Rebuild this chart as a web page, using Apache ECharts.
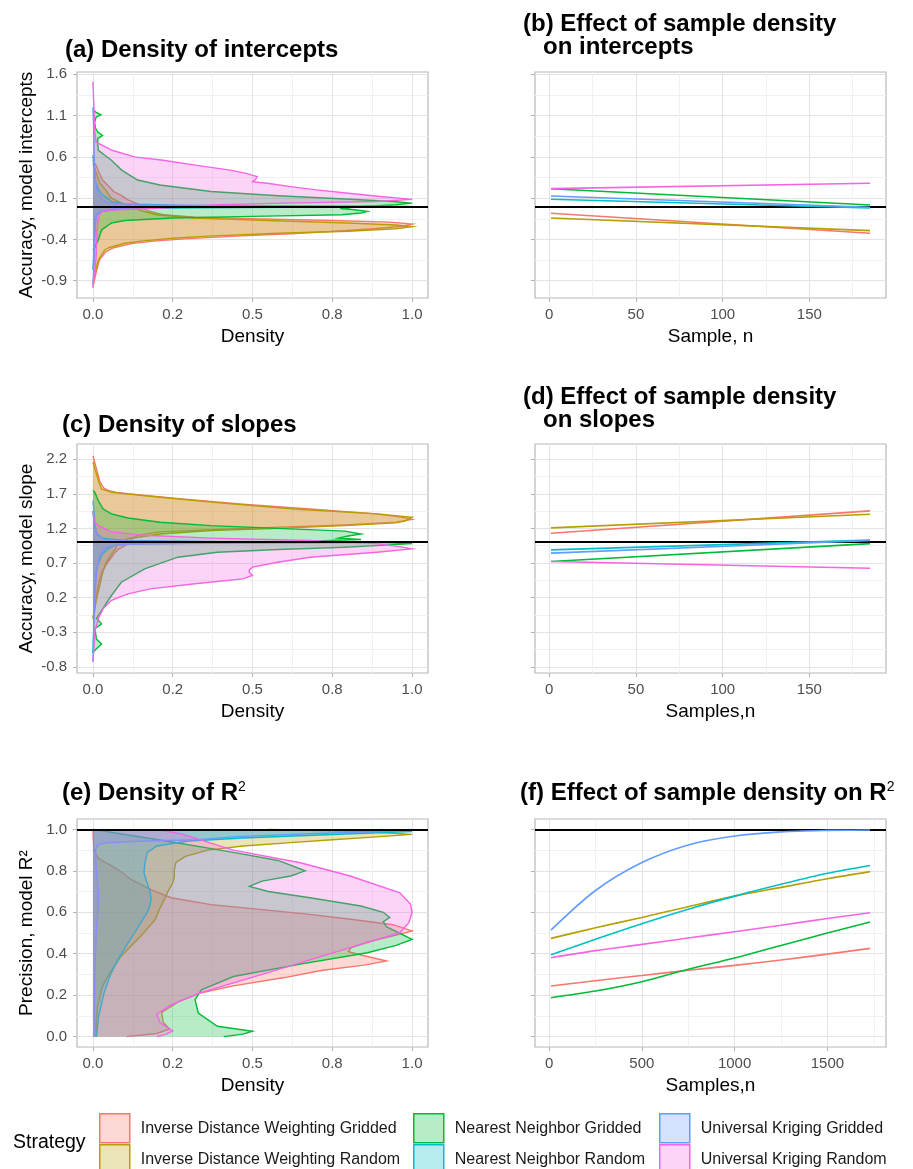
<!DOCTYPE html>
<html>
<head>
<meta charset="utf-8">
<script src="https://cdn.jsdelivr.net/npm/echarts@6/dist/echarts.min.js"></script>
<style>
  html, body { margin: 0; padding: 0; background: #fff; }
  #chart { width: 913px; height: 1169px; }
</style>
</head>
<body>
<div id="chart"></div>
<script>
var FONT = 'Liberation Sans, Arial, sans-serif';

var strategies = [
  'Inverse Distance Weighting Gridded',
  'Inverse Distance Weighting Random',
  'Nearest Neighbor Gridded',
  'Nearest Neighbor Random',
  'Universal Kriging Gridded',
  'Universal Kriging Random'
];
var colors = ['#F8766D', '#B79F00', '#00BA38', '#00BFC4', '#619CFF', '#F564E3'];
var fills = ['rgba(248,118,109,0.28)', 'rgba(183,159,0,0.28)', 'rgba(0,186,56,0.28)',
             'rgba(0,191,196,0.28)', 'rgba(97,156,255,0.28)', 'rgba(245,100,227,0.28)'];

// tick values / labels
var densityTicks = [0, 0.25, 0.5, 0.75, 1];
var densityTickLabels = ['0.0', '0.2', '0.5', '0.8', '1.0'];
var densityMinor = [0.125, 0.375, 0.625, 0.875];
var interceptTicks = [-0.9, -0.4, 0.1, 0.6, 1.1, 1.6];
var interceptMinor = [-0.65, -0.15, 0.35, 0.85, 1.35];
var slopeTicks = [-0.8, -0.3, 0.2, 0.7, 1.2, 1.7, 2.2];
var slopeMinor = [-0.55, -0.05, 0.45, 0.95, 1.45, 1.95];
var r2Ticks = [0, 0.2, 0.4, 0.6, 0.8, 1.0];
var r2Minor = [0.1, 0.3, 0.5, 0.7, 0.9];
var smallNTicks = [0, 50, 100, 150];
var smallNMinor = [25, 75, 125, 175];
var largeNTicks = [0, 500, 1000, 1500];
var largeNMinor = [250, 750, 1250, 1750];

// reference lines
var interceptRef = 0;
var slopeRef = 1;
var r2Ref = 1;

// ---- (a) density of intercepts: [value, scaled density]
var intIDWG = [[0.56,0],[0.48,0.012],[0.40,0.02],[0.32,0.03],[0.24,0.05],[0.18,0.065],[0.13,0.09],[0.08,0.11],[0.03,0.14],[0.0,0.15],[-0.05,0.17],[-0.1,0.22],[-0.13,0.32],[-0.15,0.5],[-0.17,0.75],[-0.19,0.93],[-0.214,1.0],[-0.24,0.97],[-0.27,0.88],[-0.3,0.76],[-0.33,0.62],[-0.36,0.45],[-0.39,0.3],[-0.42,0.19],[-0.45,0.12],[-0.5,0.065],[-0.55,0.04],[-0.65,0.02],[-0.8,0.01],[-0.97,0]];
var intIDWR = [[0.52,0],[0.4,0.011],[0.28,0.022],[0.2,0.04],[0.1,0.058],[0.04,0.09],[0.0,0.12],[-0.05,0.15],[-0.1,0.2],[-0.14,0.32],[-0.17,0.55],[-0.2,0.8],[-0.225,0.95],[-0.245,1.0],[-0.27,0.95],[-0.3,0.8],[-0.325,0.58],[-0.36,0.36],[-0.386,0.25],[-0.42,0.15],[-0.446,0.1],[-0.5,0.05],[-0.527,0.037],[-0.648,0.017],[-0.81,0.006],[-0.92,0]];
var intNNG = [[1.17,0],[1.14,0.01],[1.11,0.025],[1.08,0.01],[1.02,0.005],[0.95,0.008],[0.9,0.015],[0.86,0.03],[0.82,0.015],[0.76,0.015],[0.68,0.017],[0.56,0.058],[0.44,0.09],[0.32,0.14],[0.26,0.21],[0.18,0.37],[0.13,0.58],[0.09,0.79],[0.06,0.94],[0.04,1.0],[0.02,0.95],[0.0,0.84],[-0.025,0.775],[-0.04,0.82],[-0.06,0.86],[-0.08,0.84],[-0.1,0.78],[-0.12,0.5],[-0.14,0.25],[-0.17,0.1],[-0.2,0.058],[-0.285,0.027],[-0.405,0.017],[-0.5,0.006],[-0.53,0]];
var intNNR = [[0.62,0],[0.45,0.004],[0.3,0.008],[0.2,0.018],[0.15,0.027],[0.1,0.045],[0.06,0.058],[0.03,0.1],[0.012,0.3],[0.004,0.7],[-0.003,1.0],[-0.01,0.6],[-0.02,0.2],[-0.035,0.08],[-0.06,0.027],[-0.1,0.01],[-0.2,0.006],[-0.45,0.004],[-0.77,0]];
var intUKG = [[1.2,0],[1.0,0.002],[0.8,0.003],[0.6,0.004],[0.4,0.006],[0.25,0.01],[0.15,0.016],[0.08,0.03],[0.04,0.05],[0.015,0.15],[0.005,0.6],[0.0,1.0],[-0.006,0.6],[-0.015,0.15],[-0.03,0.06],[-0.06,0.03],[-0.1,0.012],[-0.2,0.008],[-0.4,0.005],[-0.6,0.004],[-0.8,0.002],[-0.95,0]];
var intUKR = [[1.51,0],[1.3,0.002],[1.1,0.004],[0.9,0.006],[0.78,0.01],[0.74,0.03],[0.68,0.06],[0.6,0.13],[0.56,0.22],[0.5,0.32],[0.44,0.43],[0.4,0.48],[0.36,0.515],[0.33,0.51],[0.3,0.5],[0.28,0.546],[0.24,0.62],[0.2,0.7],[0.16,0.8],[0.12,0.9],[0.1,0.96],[0.085,1.0],[0.06,0.89],[0.04,0.6],[0.02,0.4],[0.0,0.3],[-0.02,0.22],[-0.04,0.08],[-0.06,0.03],[-0.1,0.02],[-0.2,0.015],[-0.37,0.012],[-0.61,0.01],[-0.77,0.006],[-0.99,0]];

// ---- (c) density of slopes
var slpIDWG = [[2.25,0],[2.06,0.011],[1.87,0.022],[1.78,0.035],[1.75,0.048],[1.72,0.075],[1.70,0.11],[1.63,0.27],[1.55,0.47],[1.48,0.68],[1.41,0.89],[1.36,0.97],[1.33,1.0],[1.29,0.95],[1.25,0.79],[1.2,0.47],[1.15,0.21],[1.1,0.14],[1.04,0.12],[1.0,0.12],[0.95,0.1],[0.9,0.08],[0.84,0.067],[0.7,0.045],[0.55,0.026],[0.35,0.015],[0.2,0.01],[0.0,0.005],[-0.1,0]];
var slpIDWR = [[2.16,0],[2.0,0.01],[1.85,0.02],[1.77,0.027],[1.72,0.058],[1.65,0.21],[1.58,0.37],[1.48,0.63],[1.41,0.89],[1.36,1.0],[1.31,0.98],[1.28,0.95],[1.24,0.79],[1.2,0.58],[1.17,0.37],[1.12,0.21],[1.05,0.11],[1.0,0.08],[0.95,0.075],[0.9,0.07],[0.84,0.06],[0.7,0.04],[0.55,0.03],[0.35,0.02],[0.15,0.01],[-0.1,0]];
var slpNNG = [[1.75,0],[1.72,0.006],[1.6,0.017],[1.48,0.032],[1.41,0.058],[1.35,0.11],[1.29,0.21],[1.24,0.37],[1.2,0.58],[1.16,0.79],[1.12,0.84],[1.09,0.8],[1.06,0.77],[1.04,0.84],[1.02,0.7],[1.0,0.9],[0.98,1.0],[0.955,0.9],[0.928,0.79],[0.895,0.58],[0.856,0.39],[0.784,0.266],[0.615,0.162],[0.422,0.089],[0.23,0.058],[0.085,0.037],[-0.1,0.011],[-0.18,0.027],[-0.25,0.006],[-0.4,0.011],[-0.47,0.027],[-0.54,0.011],[-0.59,0]];
var slpNNR = [[1.45,0],[1.25,0.005],[1.12,0.012],[1.06,0.03],[1.025,0.1],[1.008,0.4],[1.0,1.0],[0.992,0.4],[0.975,0.1],[0.953,0.069],[0.9,0.045],[0.81,0.027],[0.7,0.018],[0.615,0.012],[0.4,0.007],[0.1,0.004],[-0.3,0.002],[-0.6,0]];
var slpUKG = [[1.6,0],[1.4,0.004],[1.2,0.008],[1.1,0.014],[1.04,0.035],[1.015,0.12],[1.004,0.5],[0.998,1.0],[0.99,0.45],[0.975,0.12],[0.95,0.055],[0.9,0.035],[0.8,0.02],[0.6,0.012],[0.3,0.007],[0.0,0.004],[-0.4,0.002],[-0.72,0]];
var slpUKR = [[1.45,0],[1.3,0.004],[1.24,0.017],[1.15,0.058],[1.1,0.16],[1.06,0.37],[1.025,0.68],[0.98,0.89],[0.93,0.97],[0.904,1.0],[0.856,0.89],[0.784,0.68],[0.71,0.58],[0.64,0.5],[0.6,0.49],[0.567,0.49],[0.52,0.5],[0.47,0.47],[0.4,0.32],[0.326,0.18],[0.254,0.11],[0.16,0.058],[0.04,0.032],[-0.1,0.017],[-0.3,0.006],[-0.55,0.003],[-0.73,0]];

// ---- (e) density of R2
var r2IDWG = [[1.0,0],[0.9,0.003],[0.86,0.017],[0.805,0.08],[0.757,0.12],[0.71,0.18],[0.67,0.245],[0.637,0.37],[0.613,0.53],[0.59,0.68],[0.564,0.82],[0.54,0.94],[0.51,1.0],[0.49,0.95],[0.46,0.87],[0.43,0.81],[0.41,0.8],[0.39,0.85],[0.365,0.92],[0.345,0.85],[0.32,0.72],[0.285,0.6],[0.245,0.44],[0.212,0.34],[0.17,0.27],[0.117,0.215],[0.07,0.22],[0.037,0.24],[0.015,0.2],[0.0,0.105]];
var r2IDWR = [[1.0,0.55],[0.99,0.85],[0.976,1.0],[0.965,0.9],[0.95,0.75],[0.936,0.62],[0.92,0.47],[0.9,0.36],[0.87,0.29],[0.84,0.26],[0.806,0.255],[0.77,0.255],[0.742,0.25],[0.7,0.235],[0.662,0.224],[0.62,0.21],[0.565,0.195],[0.485,0.15],[0.388,0.088],[0.3,0.05],[0.244,0.03],[0.15,0.015],[0.08,0.01],[0.0,0.01]];
var r2NNG = [[1.0,0],[0.98,0.08],[0.944,0.23],[0.889,0.44],[0.85,0.58],[0.8,0.665],[0.775,0.62],[0.75,0.53],[0.725,0.49],[0.7,0.55],[0.67,0.68],[0.63,0.84],[0.6,0.91],[0.575,0.93],[0.555,0.91],[0.53,0.92],[0.5,0.96],[0.469,1.0],[0.44,0.95],[0.405,0.86],[0.35,0.65],[0.29,0.44],[0.226,0.34],[0.178,0.32],[0.114,0.33],[0.05,0.39],[0.026,0.5],[0.012,0.47],[0.0,0.41]];
var r2NNR = [[1.0,0.9],[0.99,1.0],[0.975,0.75],[0.958,0.47],[0.944,0.3],[0.92,0.2],[0.888,0.17],[0.84,0.163],[0.791,0.16],[0.74,0.17],[0.695,0.18],[0.662,0.182],[0.63,0.178],[0.598,0.17],[0.55,0.15],[0.5,0.13],[0.44,0.105],[0.37,0.078],[0.3,0.055],[0.212,0.035],[0.1,0.018],[0.0,0.011]];
var r2UKG = [[1.0,1.0],[0.993,0.98],[0.98,0.7],[0.965,0.45],[0.95,0.33],[0.945,0.2],[0.94,0.1],[0.935,0.04],[0.925,0.015],[0.9,0.008],[0.82,0.01],[0.7,0.017],[0.62,0.016],[0.5,0.01],[0.3,0.006],[0.1,0.004],[0.0,0.003]];
var r2UKR = [[1.0,0.2],[0.98,0.27],[0.958,0.32],[0.9,0.44],[0.839,0.65],[0.775,0.806],[0.694,0.962],[0.64,0.995],[0.598,1.0],[0.55,0.99],[0.501,0.962],[0.405,0.754],[0.308,0.546],[0.212,0.338],[0.15,0.24],[0.108,0.2],[0.068,0.21],[0.028,0.25],[0.012,0.23],[0.0,0.2]];

// ---- (b), (d) effect of sample density (fitted lines)
var smallN = [1, 185];
var intEffIDWG = [-0.083, -0.325];
var intEffIDWR = [-0.14, -0.293];
var intEffNNG = [0.215, 0.018];
var intEffNNR = [0.087, -0.019];
var intEffUKG = [0.127, -0.01];
var intEffUKR = [0.215, 0.28];

var slpEffIDWG = [1.131, 1.453];
var slpEffIDWR = [1.208, 1.405];
var slpEffNNG = [0.721, 0.98];
var slpEffNNR = [0.89, 1.03];
var slpEffUKG = [0.842, 1.025];
var slpEffUKR = [0.721, 0.625];

// ---- (f) effect of sample density on R2
var largeN = [10, 250, 500, 750, 1000, 1250, 1500, 1730];
var r2EffIDWG = [0.244, 0.27, 0.295, 0.32, 0.344, 0.37, 0.398, 0.426];
var r2EffIDWR = [0.474, 0.525, 0.575, 0.627, 0.678, 0.72, 0.762, 0.796];
var r2EffNNG = [0.188, 0.22, 0.265, 0.325, 0.379, 0.44, 0.5, 0.553];
var r2EffNNR = [0.395, 0.47, 0.545, 0.615, 0.678, 0.735, 0.788, 0.826];
var r2EffUKG = [0.514, 0.705, 0.84, 0.925, 0.968, 0.988, 0.995, 0.997];
var r2EffUKR = [0.381, 0.415, 0.445, 0.476, 0.506, 0.537, 0.57, 0.598];

var dom = document.getElementById('chart');
var myChart = echarts.init(dom, null, { renderer: 'canvas' });

function labelFor(ticks, labels) {
  return function (v) {
    for (var i = 0; i < ticks.length; i++) {
      if (Math.abs(ticks[i] - v) < 1e-9) return labels[i];
    }
    return '';
  };
}

// main axis (ticks, labels, major grid) + hidden twin axis (minor grid)
function axisPair(dim, gi, min, max, major, minor, cfg) {
  var main = {
    type: 'value', gridIndex: gi, min: min, max: max,
    position: dim === 'x' ? 'bottom' : 'left',
    axisLine: { show: false, onZero: false },
    axisTick: { show: true, length: 4, lineStyle: { color: '#B3B3B3', width: 1 }, customValues: major },
    axisLabel: {
      show: cfg.labels !== false, customValues: major, color: '#4D4D4D', fontSize: 15,
      fontFamily: FONT, margin: dim === 'x' ? 9 : 10,
      formatter: cfg.formatter
    },
    splitLine: { show: true, lineStyle: { color: '#E3E3E3', width: 1 } }
  };
  if (cfg.name) {
    main.name = cfg.name;
    main.nameLocation = 'middle';
    main.nameGap = dim === 'x' ? 29 : 41;
    main.nameTextStyle = { fontSize: 19, color: '#000', fontFamily: FONT };
  }
  var minorAxis = {
    type: 'value', gridIndex: gi, min: min, max: max,
    position: dim === 'x' ? 'top' : 'right',
    axisLine: { show: false, onZero: false },
    axisTick: { show: false, customValues: minor },
    axisLabel: { show: false },
    splitLine: { show: true, lineStyle: { color: '#F1F1F1', width: 1 } }
  };
  return [main, minorAxis];
}

function densitySeries(curves, gi) {
  return curves.map(function (pts, k) {
    return {
      type: 'custom',
      name: strategies[k],
      xAxisIndex: gi * 2, yAxisIndex: gi * 2,
      silent: true, z: 2,
      data: pts.map(function (p) { return [p[1], p[0]]; }),
      renderItem: function (params, api) {
        if (params.dataIndex !== 0) return;
        var line = pts.map(function (p) { return api.coord([p[1], p[0]]); });
        var first = pts[0], last = pts[pts.length - 1];
        var poly = [api.coord([0, first[0]])].concat(line, [api.coord([0, last[0]])]);
        return {
          type: 'group',
          children: [
            { type: 'polygon', shape: { points: poly }, style: { fill: fills[k], stroke: null } },
            { type: 'polyline', shape: { points: line }, style: { fill: null, stroke: colors[k], lineWidth: 1.4 } }
          ]
        };
      }
    };
  });
}

function effectSeries(nArr, lines, gi) {
  return lines.map(function (vals, k) {
    return {
      type: 'line',
      name: strategies[k],
      xAxisIndex: gi * 2, yAxisIndex: gi * 2,
      data: nArr.map(function (n, i) { return [n, vals[i]]; }),
      showSymbol: false, symbol: 'none', smooth: 0.3, silent: true, z: 3,
      lineStyle: { color: colors[k], width: 1.6 },
      itemStyle: { color: colors[k] }
    };
  });
}

function refLine(gi, value, z) {
  return {
    type: 'line', xAxisIndex: gi * 2, yAxisIndex: gi * 2, data: [], silent: true,
    markLine: {
      silent: true, z: z, symbol: ['none', 'none'], label: { show: false },
      lineStyle: { color: '#000', width: 2, type: 'solid' },
      emphasis: { disabled: true },
      data: [{ yAxis: value }]
    }
  };
}

var densFmt = labelFor(densityTicks, densityTickLabels);
var oneDec = function (v) { return v.toFixed(1); };
var intFmt = function (v) { return String(Math.round(v)); };

var xAxes = [].concat(
  axisPair('x', 0, -0.05, 1.05, densityTicks, densityMinor, { name: 'Density', formatter: densFmt }),
  axisPair('x', 1, -8.2, 194.2, smallNTicks, smallNMinor, { name: 'Sample, n', formatter: intFmt }),
  axisPair('x', 2, -0.05, 1.05, densityTicks, densityMinor, { name: 'Density', formatter: densFmt }),
  axisPair('x', 3, -8.2, 194.2, smallNTicks, smallNMinor, { name: 'Samples,n', formatter: intFmt }),
  axisPair('x', 4, -0.05, 1.05, densityTicks, densityMinor, { name: 'Density', formatter: densFmt }),
  axisPair('x', 5, -76, 1816, largeNTicks, largeNMinor, { name: 'Samples,n', formatter: intFmt })
);
var yAxes = [].concat(
  axisPair('y', 0, -1.109, 1.628, interceptTicks, interceptMinor, { name: 'Accuracy, model intercepts', formatter: oneDec }),
  axisPair('y', 1, -1.109, 1.628, interceptTicks, interceptMinor, { labels: false }),
  axisPair('y', 2, -0.89, 2.42, slopeTicks, slopeMinor, { name: 'Accuracy, model slope', formatter: oneDec }),
  axisPair('y', 3, -0.89, 2.42, slopeTicks, slopeMinor, { labels: false }),
  axisPair('y', 4, -0.05, 1.05, r2Ticks, r2Minor, { name: 'Precision, model R²', formatter: oneDec }),
  axisPair('y', 5, -0.05, 1.05, r2Ticks, r2Minor, { labels: false })
);

function gridAt(left, top, height) {
  return { left: left, top: top, width: 351, height: height, show: true,
           borderColor: '#B8B8B8', borderWidth: 1.2, backgroundColor: 'transparent' };
}

// one legend per key, laid out as 3 columns x 2 rows
var legendLefts = [99, 99, 413, 413, 659, 659];
var legendTops = [1113, 1144, 1113, 1144, 1113, 1144];
function legendItem(k) {
  return {
    left: legendLefts[k], top: legendTops[k], padding: 0,
    itemWidth: 30, itemHeight: 29, selectedMode: false,
    textStyle: { fontSize: 16, color: '#1A1A1A', fontFamily: FONT, padding: [0, 0, 0, 6] },
    data: [{ name: strategies[k], icon: 'rect',
             itemStyle: { color: fills[k], borderColor: colors[k], borderWidth: 1.5 } }]
  };
}

var titleStyle = { fontSize: 24, fontWeight: 'bold', color: '#000', fontFamily: FONT, lineHeight: 26,
                   rich: { sup: { fontSize: 14, fontWeight: 'normal', fontFamily: FONT, verticalAlign: 'top', lineHeight: 14 } } };
var titleStyle2 = Object.assign({}, titleStyle, { lineHeight: 23 });

var option = {
  animation: false,
  backgroundColor: '#fff',
  title: [
    { text: '(a) Density of intercepts', left: 65, top: 37, padding: 0, textStyle: titleStyle },
    { text: '(b) Effect of sample density\n   on intercepts', left: 523, top: 13, padding: 0, textStyle: titleStyle2 },
    { text: '(c) Density of slopes', left: 62, top: 412, padding: 0, textStyle: titleStyle },
    { text: '(d) Effect of sample density\n   on slopes', left: 523, top: 386, padding: 0, textStyle: titleStyle2 },
    { text: '(e) Density of R{sup|2}', left: 62, top: 780, padding: 0, textStyle: titleStyle },
    { text: '(f) Effect of sample density on R{sup|2}', left: 520, top: 780, padding: 0, textStyle: titleStyle },
    { text: 'Strategy', left: 13, top: 1133, padding: 0,
      textStyle: { fontSize: 19.5, fontWeight: 'normal', color: '#000', fontFamily: FONT } }
  ],
  legend: [0, 1, 2, 3, 4, 5].map(legendItem),
  grid: [
    gridAt(77, 72, 226), gridAt(535, 72, 226),
    gridAt(77, 444, 229), gridAt(535, 444, 229),
    gridAt(77, 819, 228), gridAt(535, 819, 228)
  ],
  xAxis: xAxes,
  yAxis: yAxes,
  series: [].concat(
    densitySeries([intIDWG, intIDWR, intNNG, intNNR, intUKG, intUKR], 0),
    [refLine(0, interceptRef, 6)],
    refLine(1, interceptRef, 1),
    effectSeries(smallN, [intEffIDWG, intEffIDWR, intEffNNG, intEffNNR, intEffUKG, intEffUKR], 1),
    densitySeries([slpIDWG, slpIDWR, slpNNG, slpNNR, slpUKG, slpUKR], 2),
    [refLine(2, slopeRef, 6)],
    refLine(3, slopeRef, 1),
    effectSeries(smallN, [slpEffIDWG, slpEffIDWR, slpEffNNG, slpEffNNR, slpEffUKG, slpEffUKR], 3),
    densitySeries([r2IDWG, r2IDWR, r2NNG, r2NNR, r2UKG, r2UKR], 4),
    [refLine(4, r2Ref, 6)],
    refLine(5, r2Ref, 1),
    effectSeries(largeN, [r2EffIDWG, r2EffIDWR, r2EffNNG, r2EffNNR, r2EffUKG, r2EffUKR], 5)
  )
};

if (option && typeof option === 'object') {
  myChart.setOption(option);
}

window.addEventListener('resize', myChart.resize);
</script>
</body>
</html>
